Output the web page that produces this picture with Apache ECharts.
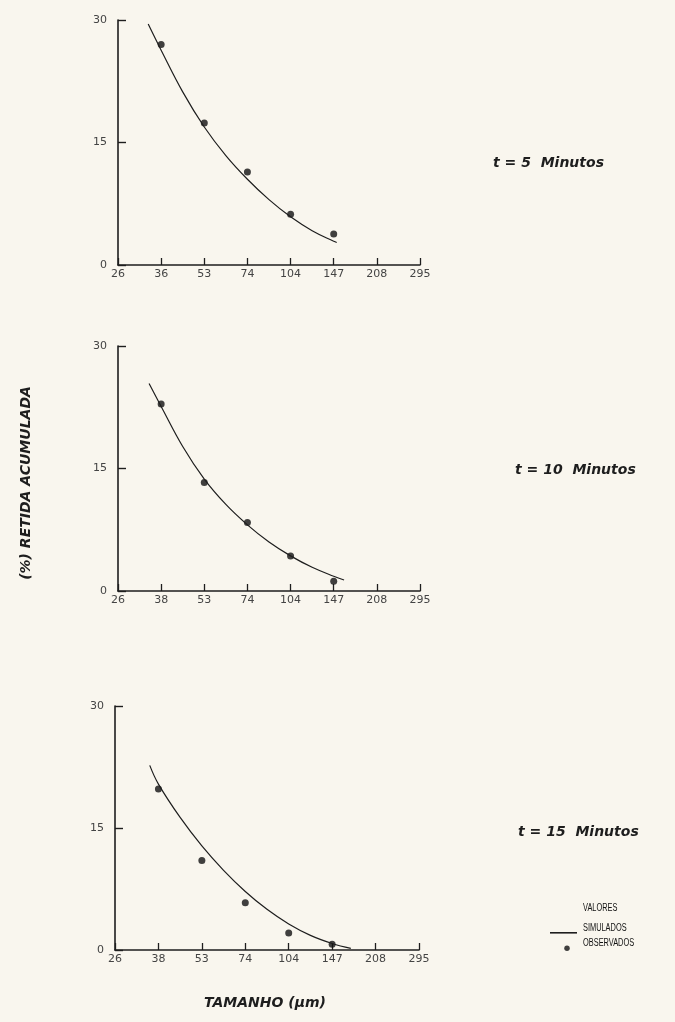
<!DOCTYPE html>
<html>
<head>
<meta charset="utf-8">
<script src="https://cdn.jsdelivr.net/npm/echarts@6/dist/echarts.min.js"></script>
<style>
  html, body { margin: 0; padding: 0; background: #f9f6ee; }
  #chart { width: 675px; height: 1022px; }
</style>
</head>
<body>
<div id="chart"></div>
<script>
// tamanho das peneiras (um) - eixo x espaçado igualmente
const sizeTicks5 = ['26', '36', '53', '74', '104', '147', '208', '295']
const sizeTicks = ['26', '38', '53', '74', '104', '147', '208', '295']
// posição (índice) dos pontos observados
const obsIndex = [1, 2, 3, 4, 5]

// % retida acumulada observada
const obs5 = [27.0, 17.4, 11.4, 6.2, 3.8]
const obs10 = [22.9, 13.3, 8.4, 4.3, 1.2]
const obs15 = [19.8, 11.0, 5.8, 2.1, 0.7]

// curvas simuladas: [indice, valor]
const sim5 = [[0.7, 29.5], [1, 26.3], [1.5, 21.2], [2, 16.9], [2.5, 13.4], [3, 10.5], [3.5, 8.0], [4, 5.9], [4.5, 4.2], [5, 2.9], [5.07, 2.75]]
const sim10 = [[0.72, 25.4], [1, 22.6], [1.5, 17.7], [2, 13.7], [2.5, 10.6], [3, 8.1], [3.5, 6.0], [4, 4.3], [4.5, 2.9], [5, 1.8], [5.24, 1.35]]
const sim15 = [[0.8, 22.7], [1, 20.4], [1.5, 16.3], [2, 12.8], [2.5, 9.8], [3, 7.2], [3.5, 5.0], [4, 3.2], [4.5, 1.8], [5, 0.8], [5.43, 0.2]]

const titles = ['t = 5  Minutos', 't = 10  Minutos', 't = 15  Minutos']
const legendTexts = ['VALORES', 'SIMULADOS', 'OBSERVADOS']

const ink = '#1e1e1e'
const labelFont = 'DejaVu Sans'
const heavyFont = 'DejaVu Sans'

const grids = [
    { left: 118, top: 20, width: 302, height: 245 },
    { left: 118, top: 346, width: 302, height: 245 },
    { left: 115, top: 706, width: 304, height: 244 }
]

const tickSets = [sizeTicks5, sizeTicks, sizeTicks]
const obsSets = [obs5, obs10, obs15]
const simSets = [sim5, sim10, sim15]

const xAxes = grids.map((g, i) => ({
    type: 'value',
    gridIndex: i,
    min: 0,
    max: 7,
    interval: 1,
    axisLine: { lineStyle: { color: ink, width: 1.6 } },
    axisTick: { inside: true, length: 7, lineStyle: { color: ink, width: 1.3 } },
    splitLine: { show: false },
    axisLabel: {
        color: '#444', fontSize: 11, fontFamily: labelFont, margin: 4,
        formatter: v => tickSets[i][v]
    }
}))

const yAxes = grids.map((g, i) => ({
    type: 'value',
    gridIndex: i,
    min: 0,
    max: 30,
    interval: 15,
    axisLine: { show: true, lineStyle: { color: ink, width: 1.6 } },
    axisTick: { show: true, inside: true, length: 8, lineStyle: { color: ink, width: 1.4 } },
    splitLine: { show: false },
    axisLabel: { color: '#444', fontSize: 11, fontFamily: labelFont, margin: 11 }
}))

const series = []
grids.forEach((g, i) => {
    series.push({
        name: 'SIMULADOS',
        type: 'line',
        xAxisIndex: i,
        yAxisIndex: i,
        smooth: 0.4,
        symbol: 'none',
        lineStyle: { color: ink, width: 1.2 },
        itemStyle: { color: ink },
        data: simSets[i]
    })
    series.push({
        name: 'OBSERVADOS',
        type: 'scatter',
        xAxisIndex: i,
        yAxisIndex: i,
        symbolSize: 7,
        itemStyle: { color: '#111' },
        data: obsIndex.map((x, k) => [x, obsSets[i][k]])
    })
})

const titlePos = [[493, 163], [515, 470], [518, 832]]
const heavyStyle = {
    fontFamily: heavyFont, fontSize: 14, fontWeight: 'bold', fontStyle: 'italic', fill: ink
}
const legendY = [908, 928, 943]

const chart = echarts.init(document.getElementById('chart'))
chart.setOption({
    backgroundColor: '#f9f6ee',
    animation: false,
    grid: grids,
    xAxis: xAxes,
    yAxis: yAxes,
    legend: [
        {
            left: 545, top: 927, itemWidth: 27, itemHeight: 1.6, icon: 'rect',
            data: ['SIMULADOS'], formatter: () => '', selectedMode: false
        },
        {
            left: 549, top: 940.5, itemWidth: 26, itemHeight: 5.5, icon: 'circle',
            data: ['OBSERVADOS'], formatter: () => '', selectedMode: false
        }
    ],
    graphic: [
        ...titles.map((t, i) => ({
            type: 'text', x: titlePos[i][0], y: titlePos[i][1],
            style: Object.assign({ text: t, verticalAlign: 'middle' }, heavyStyle)
        })),
        ...legendTexts.map((t, i) => ({
            type: 'text', x: 583, y: legendY[i], scaleX: 0.74,
            style: { text: t, fontSize: 10, fontFamily: 'Liberation Sans', verticalAlign: 'middle', fill: '#111' }
        })),
        {
            type: 'text', x: 265, y: 1003,
            style: Object.assign({ text: 'TAMANHO (μm)', align: 'center', verticalAlign: 'middle' }, heavyStyle)
        },
        {
            type: 'text', x: 26, y: 483, rotation: Math.PI / 2,
            style: Object.assign({ text: '(%) RETIDA ACUMULADA', align: 'center', verticalAlign: 'middle' }, heavyStyle)
        }
    ],
    series: series
})
</script>
</body>
</html>
